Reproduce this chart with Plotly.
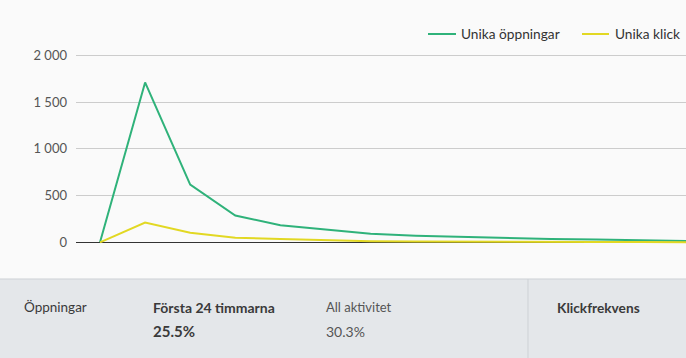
import plotly.graph_objects as go

# --- data ---
steps = [0, 1, 2, 3, 4, 5, 6, 7, 8, 9, 10, 11, 12, 13]
unika_oppningar = [0, 1710, 616, 286, 183, 140, 92, 71, 58, 45, 36, 30, 22, 14]
unika_klick = [0, 211, 103, 50, 35, 21, 12, 8, 5, 3, 3, 2, 2, 1]
series_names = ["Unika öppningar", "Unika klick"]
y_tickvals = [0, 500, 1000, 1500, 2000]
y_ticktext = ["0", "500", "1 000", "1 500", "2 000"]

stats_labels = ["Öppningar", "Första 24 timmarna", "All aktivitet", "Klickfrekvens"]
stats_values = ["25.5%", "30.3%"]

W, H = 686, 358
FONT = "Source Sans Pro, Lato, sans-serif"
GREEN = "#2fb27a"
YELLOW = "#e2d823"
colors = [GREEN, YELLOW]

fig = go.Figure()
fig.add_trace(go.Scatter(x=steps, y=unika_oppningar, mode="lines", name=series_names[0],
                         line=dict(color=GREEN, width=2), showlegend=False))
fig.add_trace(go.Scatter(x=steps, y=unika_klick, mode="lines", name=series_names[1],
                         line=dict(color=YELLOW, width=2), showlegend=False))

def py(px):
    return (H - px) / H

def pxx(px):
    return px / W

plot_top, plot_bot = 40, 260
zero_px, top_px = 242.3, 55.3
upp = 2000 / (zero_px - top_px)
ymax = 2000 + (top_px - plot_top) * upp
ymin = -(plot_bot - zero_px) * upp

x0_px, step_px, left_px = 100, 45.1, 76
xmin = -(x0_px - left_px) / step_px
xmax = (W - x0_px) / step_px

panel_top = 279
shapes = [
    dict(type="rect", xref="paper", yref="paper", x0=0, x1=1, y0=0, y1=py(panel_top),
         fillcolor="#e4e7ea", line=dict(width=0), layer="below"),
    dict(type="line", xref="paper", yref="paper", x0=0, x1=1, y0=py(panel_top), y1=py(panel_top),
         line=dict(color="#cdd1d5", width=1)),
    dict(type="line", xref="paper", yref="paper", x0=pxx(528), x1=pxx(528), y0=0, y1=py(panel_top),
         line=dict(color="#cdd1d5", width=1)),
]

ann = []
def add_text(x, y, text, bold=False, color="#333", size=13):
    ann.append(dict(xref="paper", yref="paper", x=pxx(x - 2), y=py(y), xanchor="left", yanchor="middle",
                    text=f"<b>{text}</b>" if bold else text, showarrow=False,
                    font=dict(family=FONT, size=size, color=color)))

# manual legend
legend_pos = [(428, 456, 461), (582, 609, 615)]
for (lx0, lx1, tx), name, col in zip(legend_pos, series_names, colors):
    shapes.append(dict(type="line", xref="paper", yref="paper", x0=pxx(lx0), x1=pxx(lx1),
                       y0=py(34), y1=py(34), line=dict(color=col, width=2)))
    add_text(tx, 34, name, color="#333", size=13.7)

add_text(24, 307, stats_labels[0], color="#3a3a3a", size=13.5)
add_text(153, 307, stats_labels[1], bold=True, color="#3a3a3a", size=14)
add_text(153, 331, stats_values[0], bold=True, color="#3a3a3a", size=15)
add_text(326, 307, stats_labels[2], color="#555", size=13)
add_text(326, 331, stats_values[1], color="#555", size=14)
add_text(557, 307, stats_labels[3], bold=True, color="#3a3a3a", size=13.7)

fig.update_layout(
    width=W, height=H,
    margin=dict(l=0, r=0, t=0, b=0),
    paper_bgcolor="#fafafa", plot_bgcolor="#fafafa",
    font=dict(family=FONT, size=13, color="#444"),
    showlegend=False,
    xaxis=dict(domain=[pxx(left_px), 1], range=[xmin, xmax], showgrid=False, zeroline=False,
               showticklabels=False, showline=False, fixedrange=True),
    yaxis=dict(domain=[py(plot_bot), py(plot_top)], range=[ymin, ymax], tickvals=y_tickvals,
               ticktext=y_ticktext, showgrid=True, gridcolor="#cccccc", gridwidth=1,
               zeroline=True, zerolinecolor="#333333", zerolinewidth=1,
               ticklabelstandoff=8, tickfont=dict(family=FONT, size=13, color="#555")),
    shapes=shapes,
    annotations=ann,
)

fig.write_html("out.html", config={"displayModeBar": False},
               post_script="document.body.style.margin='0px';document.body.style.overflow='hidden';")
